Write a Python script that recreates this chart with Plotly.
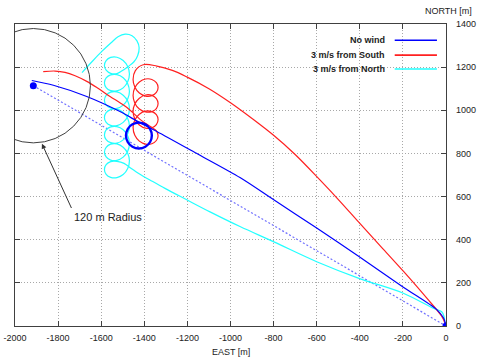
import plotly.graph_objects as go

# ---------------- data (metres) ----------------
x_range = [-2000, 0]
y_range = [0, 1400]
x_ticks = [-2000, -1800, -1600, -1400, -1200, -1000, -800, -600, -400, -200, 0]
y_ticks = [0, 200, 400, 600, 800, 1000, 1200, 1400]

series_names = ["No wind", "3 m/s from South", "3 m/s from North"]

target_x = [-1915]
target_y = [1114]
origin_x = [0]
origin_y = [0]
big_circle_r = 265
radius_label = "120 m Radius"
arrow_tip = [-1875, 845]
arrow_tail = [-1735, 540]
label_pos = [-1735, 506]

direct_x = [-1915, 0]
direct_y = [1114, 0]

nowind_x = [-1922, -1822, -1667, -1513, -1425, -1342, -1150, -956, -801, -600, -404, -198, -43, -12, -2]
nowind_y = [1138, 1116, 1064, 994, 945, 902, 796, 688, 586, 454, 322, 180, 76, 38, 10]

nowind_loop_x = [-1425, -1395, -1373, -1365, -1373, -1395, -1425, -1455, -1477, -1485, -1477, -1455, -1425]
nowind_loop_y = [943, 935, 913, 883, 853, 831, 823, 831, 853, 883, 913, 935, 943]

south_x = [-1869, -1814, -1768, -1721, -1667, -1615, -1559, -1513, -1482, -1451, -1420, -1388,
           -1365, -1344, -1336, -1344, -1365, -1394, -1423, -1444, -1452, -1444, -1423, -1394,
           -1365, -1344, -1336, -1344, -1365, -1394, -1423, -1444, -1452, -1444, -1423, -1394,
           -1365, -1344, -1336, -1344, -1365, -1394, -1423, -1444, -1452, -1444, -1423, -1394,
           -1365, -1344, -1336, -1344, -1365, -1394, -1423, -1444, -1452,
           -1442, -1405, -1342, -1270, -1203, -1100, -1000, -900, -800, -700, -585,
           -492, -404, -300, -198, -90, -20, -4]
south_y = [1179, 1182, 1176, 1160, 1134, 1102, 1064, 1035, 1014, 987, 958, 935,
           920, 905, 882, 860, 845, 843, 857, 884, 920, 955, 982, 996,
           994, 980, 957, 934, 919, 917, 932, 959, 994, 1029, 1056, 1071,
           1069, 1054, 1031, 1008, 994, 992, 1006, 1033, 1068, 1104, 1131, 1145,
           1143, 1128, 1106, 1083, 1068, 1066, 1080, 1108, 1143,
           1183, 1211, 1205, 1185, 1155, 1100, 1035, 962, 884, 795, 677,
           578, 480, 366, 254, 130, 45, 10]

north_x = [-1689, -1643, -1596, -1554, -1522, -1489, -1457, -1434, -1424, -1431, -1448, -1476, -1503,
           -1527, -1556, -1577, -1585, -1577, -1556, -1527, -1498, -1477, -1469, -1477, -1498,
           -1527, -1556, -1577, -1585, -1577, -1556, -1527, -1498, -1477, -1469, -1477, -1498,
           -1527, -1556, -1577, -1585, -1577, -1556, -1527, -1498, -1477, -1469, -1477, -1498,
           -1527, -1556, -1577, -1585, -1577, -1556, -1527, -1498, -1477, -1469, -1477, -1498,
           -1527, -1556, -1577, -1585, -1577, -1556, -1527, -1498, -1477, -1469, -1477, -1498,
           -1527, -1556, -1577, -1585, -1577, -1556, -1527, -1498, -1477, -1469, -1477, -1498,
           -1527, -1556, -1577, -1585, -1577, -1556, -1527,
           -1494, -1462, -1420, -1374, -1304, -1203, -1095, -956, -801, -600, -404, -198, -59, -20, -9, -5]
north_y = [1175, 1225, 1274, 1313, 1341, 1353, 1346, 1322, 1290, 1253, 1225, 1202, 1183,
           1170, 1171, 1186, 1208, 1230, 1245, 1246, 1231, 1203, 1168, 1132, 1104,
           1090, 1091, 1105, 1128, 1150, 1164, 1165, 1151, 1123, 1087, 1052, 1024,
           1009, 1011, 1025, 1047, 1069, 1084, 1085, 1070, 1043, 1007, 971, 944,
           929, 930, 944, 967, 989, 1003, 1005, 990, 962, 927, 891, 863,
           848, 850, 864, 886, 909, 923, 924, 910, 882, 846, 810, 783,
           768, 769, 784, 806, 828, 843, 844, 829, 801, 766, 730, 702,
           688, 689, 703, 726, 748, 762, 763,
           754, 731, 703, 677, 638, 585, 529, 461, 391, 298, 221, 152, 82, 66, 43, 12]

# ---------------- styles ----------------
BLUE = "#0000ff"
RED = "#ff2020"
CYAN = "#22ffff"
DOT = "#7070ff"
FONT = "Liberation Sans, Arial, sans-serif"
AX = "#404040"

fig = go.Figure()

fig.add_trace(go.Scatter(x=direct_x, y=direct_y, mode="lines",
                         line=dict(color=DOT, width=1.2, dash="2px,2px"), showlegend=False, hoverinfo="skip"))
fig.add_trace(go.Scatter(x=north_x, y=north_y, mode="lines", name=series_names[2],
                         line=dict(color=CYAN, width=1.2, shape="spline", smoothing=1.0), showlegend=False))
fig.add_trace(go.Scatter(x=south_x, y=south_y, mode="lines", name=series_names[1],
                         line=dict(color=RED, width=1.2, shape="spline", smoothing=1.0), showlegend=False))
fig.add_trace(go.Scatter(x=nowind_x, y=nowind_y, mode="lines", name=series_names[0],
                         line=dict(color=BLUE, width=1.2, shape="spline", smoothing=0.8), showlegend=False))
fig.add_trace(go.Scatter(x=nowind_loop_x, y=nowind_loop_y, mode="lines",
                         line=dict(color=BLUE, width=2.4, shape="spline", smoothing=1.2), showlegend=False))
fig.add_trace(go.Scatter(x=target_x + origin_x, y=target_y + origin_y, mode="markers",
                         marker=dict(color=BLUE, size=7), showlegend=False))

fig.add_shape(type="circle", xref="x", yref="y",
              x0=target_x[0] - big_circle_r, x1=target_x[0] + big_circle_r,
              y0=target_y[0] - big_circle_r, y1=target_y[0] + big_circle_r,
              line=dict(color="#404040", width=1))

fig.add_annotation(x=arrow_tip[0], y=arrow_tip[1], ax=arrow_tail[0], ay=arrow_tail[1],
                   axref="x", ayref="y", xref="x", yref="y", text="", showarrow=True,
                   arrowhead=2, arrowsize=1, arrowwidth=1, arrowcolor="#333333")
fig.add_annotation(x=label_pos[0], y=label_pos[1], xref="x", yref="y", text=radius_label,
                   showarrow=False, xanchor="left", yanchor="middle",
                   font=dict(family=FONT, size=11, color="#222222"))

# manual legend (text left, line sample right)
leg_colors = [BLUE, RED, CYAN]
leg_y = [0.946, 0.897, 0.851]
for name, col, yy in zip(series_names, leg_colors, leg_y):
    fig.add_annotation(x=0.864, y=yy, xref="paper", yref="paper", text="<b>" + name + "</b>",
                       showarrow=False, xanchor="right", yanchor="middle",
                       font=dict(family=FONT, size=9, color="#222222"))
    fig.add_shape(type="line", xref="paper", yref="paper", x0=0.881, x1=0.979, y0=yy, y1=yy,
                  line=dict(color=col, width=1.6))

fig.add_annotation(x=1.065, y=1.0, xref="paper", yref="paper", text="NORTH [m]", showarrow=False,
                   xanchor="right", yanchor="bottom", yshift=6,
                   font=dict(family=FONT, size=9, color="#222222"))
fig.add_annotation(x=0.5, y=0, xref="paper", yref="paper", text="EAST [m]", showarrow=False,
                   xanchor="center", yanchor="top", yshift=-19,
                   font=dict(family=FONT, size=9, color="#222222"))

axis_common = dict(showgrid=True, gridcolor="#a8a8a8", griddash="1px,2px", gridwidth=1,
                   zeroline=False, showline=True, linecolor=AX, linewidth=1.2, mirror="ticks",
                   ticks="inside", ticklen=5, tickcolor=AX, tickwidth=1, automargin=False,
                   tickfont=dict(family=FONT, size=9, color="#222222"))

fig.update_xaxes(range=x_range, tickvals=x_ticks, ticktext=[str(v) for v in x_ticks],
                 ticklabelstandoff=3, **axis_common)
fig.update_yaxes(range=y_range, tickvals=y_ticks, ticktext=[str(v) for v in y_ticks],
                 side="right", ticklabelstandoff=7, **axis_common)

fig.update_layout(width=480, height=362, margin=dict(l=15, r=34, t=24, b=36),
                  plot_bgcolor="white", paper_bgcolor="white", showlegend=False,
                  font=dict(family=FONT))

# remove the browser's default 8 px body margin so the figure fills the window exactly
fig.write_html("out.html", config={"displayModeBar": False},
               post_script="document.body.style.margin='0';document.body.style.overflow='hidden';")
